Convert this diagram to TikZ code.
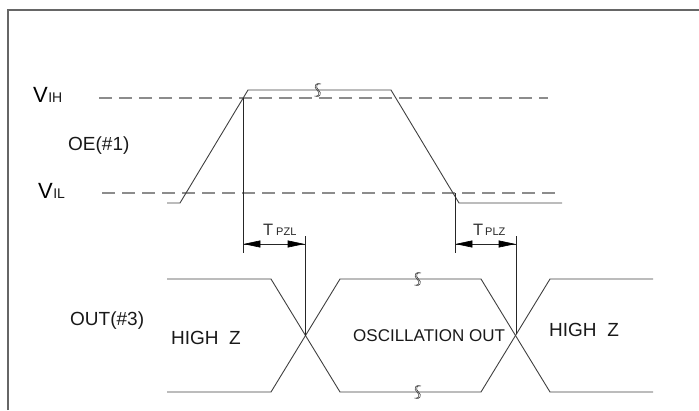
\documentclass[tikz,border=0pt]{standalone}
\usepackage{fontspec}
\setmainfont{Liberation Sans}
\usetikzlibrary{arrows.meta}
\begin{document}
\begin{tikzpicture}[x=1pt,y=-1pt,
  frame/.style={draw=black!60, line width=1.3pt},
  wave/.style={draw=black!75, line width=0.9pt},
  level/.style={draw=black!45, line width=1.2pt, dash pattern=on 13pt off 7pt},
  extline/.style={draw=black!85, line width=0.9pt},
  dimline/.style={draw=black!85, line width=0.9pt},
  tiphead/.style={fill=black, draw=black, line width=0.6pt},
  lbl/.style={inner sep=0pt, font=\fontsize{19}{19}\selectfont, text=black!90},
  big/.style={inner sep=0pt, font=\fontsize{22}{22}\selectfont, text=black},
  small/.style={inner sep=0pt, font=\fontsize{14}{14}\selectfont, text=black!90},
  tbig/.style={inner sep=0pt, font=\fontsize{16.5}{16.5}\selectfont, text=black!80},
  tsmall/.style={inner sep=0pt, font=\fontsize{11}{11}\selectfont, text=black!85},
  brk/.style={draw=black!75, line width=0.6pt}
]
\useasboundingbox (0,0) rectangle (699,410);
% frame
\coordinate (fTL) at (8,10);
\coordinate (fTR) at (699,10);
\coordinate (fBL) at (8,410);
\draw[frame] (fBL) -- (fTL) -- (fTR);

% level lines
\coordinate (vihL) at (99,98);  \coordinate (vihR) at (548,98);
\coordinate (vilL) at (102,193); \coordinate (vilR) at (555,193);
\draw[level] (vihL) -- (vihR);
\draw[level] (vilL) -- (vilR);

% labels
\node[big, anchor=base west] (vihV) at (33,102) {V};
\node[small, anchor=base west] (vihT) at (vihV.base east) {IH};
\node[big, anchor=base west] (vilV) at (38,198) {V};
\node[small, anchor=base west] (vilT) at (vilV.base east) {IL};
\node[lbl, anchor=base west] (oe) at (68,150) {OE(\#1)};
\node[lbl, anchor=base west] (out) at (70,325) {OUT(\#3)};

% OE waveform
\coordinate (o1) at (167,203);
\coordinate (o2) at (180,203);
\coordinate (o3) at (248,90);
\coordinate (o4) at (391,90);
\coordinate (o5) at (459,203);
\coordinate (o6) at (562,203);
\draw[wave] (o1) -- (o2) -- (o3) -- (o4) -- (o5) -- (o6);

% OUT waveform
\coordinate (a1) at (167,279); \coordinate (a2) at (271,279);
\coordinate (a3) at (340,392); \coordinate (a4) at (481,392);
\coordinate (a5) at (550,279); \coordinate (a6) at (653,279);
\coordinate (b1) at (167,392); \coordinate (b2) at (271,392);
\coordinate (b3) at (340,279); \coordinate (b4) at (481,279);
\coordinate (b5) at (550,392); \coordinate (b6) at (653,392);
\draw[wave] (a1) -- (a2) -- (a3) -- (a4) -- (a5) -- (a6);
\draw[wave] (b1) -- (b2) -- (b3) -- (b4) -- (b5) -- (b6);

% extension lines
\coordinate (e1t) at (243,98);  \coordinate (e1b) at (243,253);
\coordinate (e2t) at (305,236); \coordinate (e2b) at (305,335.5);
\coordinate (e3t) at (455,193); \coordinate (e3b) at (455,253);
\coordinate (e4t) at (516,236); \coordinate (e4b) at (516,334);
\draw[extline] (e1t) -- (e1b);
\draw[extline] (e2t) -- (e2b);
\draw[extline] (e3t) -- (e3b);
\draw[extline] (e4t) -- (e4b);

% dimension arrows
\coordinate (d1l) at (243,244); \coordinate (d1r) at (305,244);
\coordinate (d2l) at (455,244); \coordinate (d2r) at (516,244);
\draw[dimline] (d1l) -- (d1r);
\draw[dimline] (d2l) -- (d2r);
\filldraw[tiphead] (245,244) -- (260,240.8) -- (260,247.2) -- cycle;
\filldraw[tiphead] (303,244) -- (288,240.8) -- (288,247.2) -- cycle;
\filldraw[tiphead] (457,244) -- (472,240.8) -- (472,247.2) -- cycle;
\filldraw[tiphead] (514,244) -- (499,240.8) -- (499,247.2) -- cycle;
\node[tbig, anchor=base west] (tpzlT) at (263,235) {T};
\node[tsmall, anchor=base west] (tpzlS) at (276,235) {PZL};
\node[tbig, anchor=base west] (tplzT) at (473,235) {T};
\node[tsmall, anchor=base west] (tplzS) at (485,235) {PLZ};

% state texts
\node[lbl, anchor=west] (hz1) at (171,338) {HIGH\ \ Z};
\node[lbl, anchor=west, font=\fontsize{17}{17}\selectfont] (osc) at (353,336) {OSCILLATION OUT};
\node[lbl, anchor=west] (hz2) at (549,330) {HIGH\ \ Z};

% break marks
\foreach \bx/\by in {317/90, 417/279, 417/392}{
  \draw[brk] (\bx+2.5,\by-6) .. controls (\bx-1,\by-8) and (\bx-4,\by-3) .. (\bx,\by)
     .. controls (\bx+4,\by+3) and (\bx+1,\by+8) .. (\bx-2.5,\by+6);
  \draw[brk] (\bx+4,\by-6) .. controls (\bx+0.5,\by-8) and (\bx-2.5,\by-3) .. (\bx+1.5,\by)
     .. controls (\bx+5.5,\by+3) and (\bx+2.5,\by+8) .. (\bx-1,\by+6);
}
\end{tikzpicture}
\end{document}
